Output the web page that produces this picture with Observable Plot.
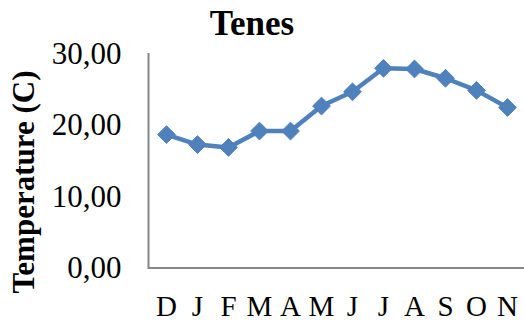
<!DOCTYPE html>
<html>
<head>
<meta charset="utf-8">
<script src="https://cdn.jsdelivr.net/npm/d3@7"></script>
<script src="https://cdn.jsdelivr.net/npm/@observablehq/plot@0.6"></script>
<style>
  html, body { margin: 0; padding: 0; background: #fff; }
  #chart { position: relative; width: 524px; height: 322px; font-family: "Liberation Serif", "Times New Roman", serif; }
  #title { position: absolute; left: 0; top: 4px; width: 504px; text-align: center; font-size: 35px; font-weight: bold; line-height: 40px; color: #000; }
  #chart svg { position: absolute; left: 0; top: 0; }
</style>
</head>
<body>
<div id="chart"><div id="title">Tenes</div></div>
<script>
// Monthly mean temperature, December through November
const months = ["D", "J", "F", "M", "A", "M", "J", "J", "A", "S", "O", "N"];
const temps = [18.7, 17.3, 16.9, 19.2, 19.2, 22.7, 24.7, 28.0, 27.9, 26.6, 24.9, 22.5];
const yTicks = [0, 10, 20, 30];
const yTitle = "Temperature (C)";

const data = months.map((m, i) => ({i, month: m, t: temps[i]}));
const comma = d3.formatLocale({decimal: ",", thousands: " ", grouping: [3], currency: ["", ""]}).format(".2f");
const axisGray = "#868686";
const blue = "#4F81BD";

const plot = Plot.plot({
  width: 524,
  height: 322,
  marginLeft: 148,
  marginRight: 0,
  marginTop: 53.5,
  marginBottom: 54.5,
  style: {fontFamily: "'Liberation Serif', 'Times New Roman', serif", color: "#000", background: "transparent"},
  x: {type: "point", domain: d3.range(months.length), padding: 0.5},
  y: {domain: [0, 30]},
  marks: [
    Plot.axisY({ticks: yTicks, tickFormat: comma, tickSize: 0, tickPadding: 27, fontSize: 31, label: null}),
    Plot.axisX({tickFormat: (i) => months[i], tickSize: 0, tickPadding: 27, fontSize: 29, label: null}),
    // rotated y-axis title
    Plot.text([yTitle], {frameAnchor: "left", text: (d) => d, rotate: -90, textAnchor: "middle", lineAnchor: "middle", dx: -124, dy: 21, fontSize: 31, fontWeight: "bold", fill: "#000"}),
    Plot.frame({anchor: "left", stroke: axisGray, strokeWidth: 2}),
    Plot.ruleY([0], {stroke: axisGray, strokeWidth: 2}),
    Plot.line(data, {x: "i", y: "t", stroke: blue, strokeWidth: 4.5}),
    Plot.dot(data, {x: "i", y: "t", symbol: "diamond2", r: 8, fill: blue, stroke: blue, strokeWidth: 1})
  ]
});
document.getElementById("chart").appendChild(plot);
</script>
</body>
</html>
